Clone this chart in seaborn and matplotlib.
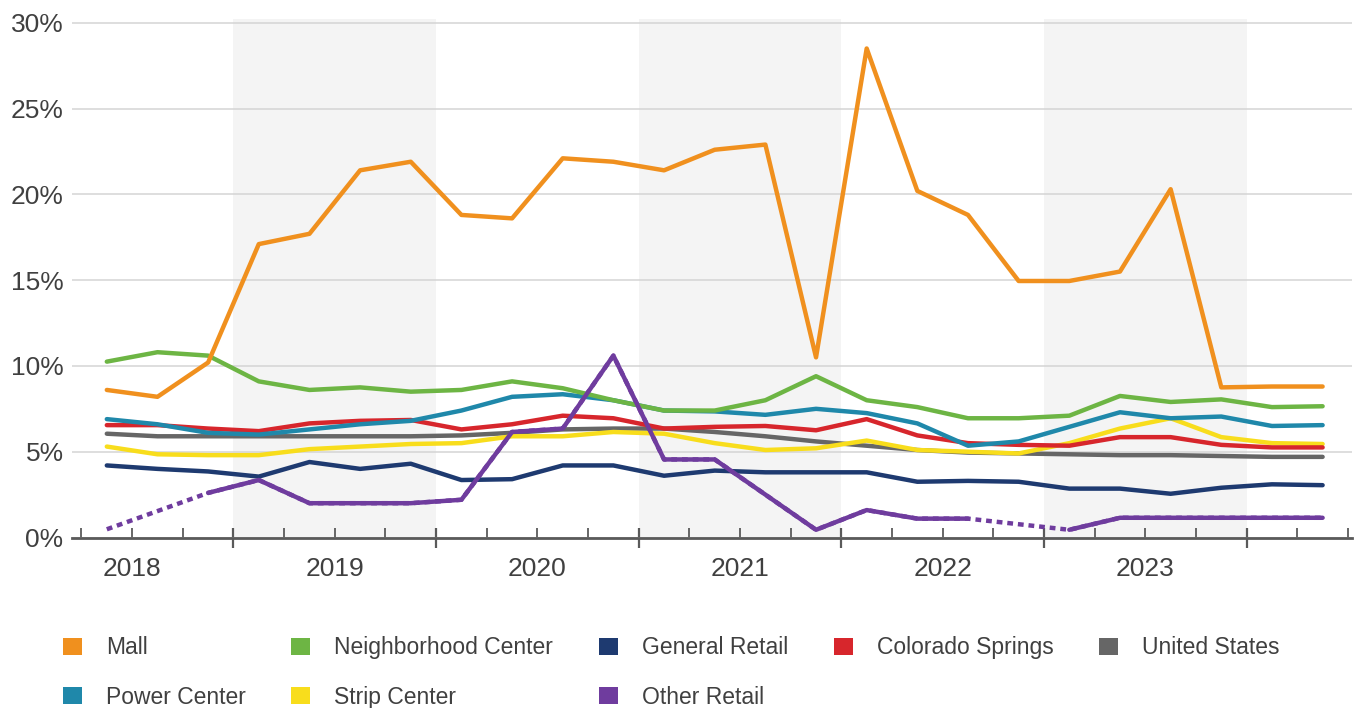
import numpy as np
import pandas as pd
import seaborn as sns
import matplotlib.pyplot as plt
from matplotlib.patches import Patch
from matplotlib.ticker import FixedLocator, PercentFormatter

# -----------------------------
# 1. Data (vacancy %, quarterly 2018Q2 - 2024Q2)
# -----------------------------
quarters = pd.period_range("2018Q2", "2024Q2", freq="Q")

mall = [8.6, 8.2, 10.2, 17.1, 17.7, 21.4, 21.9, 18.8, 18.6, 22.1, 21.9, 21.4, 22.6,
        22.9, 10.5, 28.5, 20.2, 18.8, 14.95, 14.95, 15.5, 20.3, 8.75, 8.8, 8.8]
neighborhood = [10.25, 10.8, 10.6, 9.1, 8.6, 8.75, 8.5, 8.6, 9.1, 8.7, 8.0, 7.4, 7.4,
                8.0, 9.4, 8.0, 7.6, 6.95, 6.95, 7.1, 8.25, 7.9, 8.05, 7.6, 7.65]
general = [4.2, 4.0, 3.85, 3.55, 4.4, 4.0, 4.3, 3.35, 3.4, 4.2, 4.2, 3.6, 3.9,
           3.8, 3.8, 3.8, 3.25, 3.3, 3.25, 2.85, 2.85, 2.55, 2.9, 3.1, 3.05]
colorado = [6.55, 6.55, 6.35, 6.2, 6.65, 6.8, 6.85, 6.3, 6.6, 7.1, 6.95, 6.35, 6.45,
            6.5, 6.25, 6.9, 5.95, 5.5, 5.4, 5.35, 5.85, 5.85, 5.4, 5.25, 5.25]
united_states = [6.05, 5.9, 5.9, 5.9, 5.9, 5.9, 5.9, 5.95, 6.1, 6.3, 6.35, 6.35, 6.15,
                 5.9, 5.6, 5.35, 5.1, 4.95, 4.9, 4.85, 4.8, 4.8, 4.75, 4.7, 4.7]
power = [6.9, 6.6, 6.1, 6.0, 6.3, 6.6, 6.8, 7.4, 8.2, 8.35, 8.0, 7.4, 7.35,
         7.15, 7.5, 7.25, 6.65, 5.35, 5.6, 6.45, 7.3, 6.95, 7.05, 6.5, 6.55]
strip = [5.3, 4.85, 4.8, 4.8, 5.15, 5.3, 5.45, 5.5, 5.9, 5.9, 6.15, 6.05, 5.5,
         5.1, 5.2, 5.65, 5.1, 5.0, 4.9, 5.5, 6.35, 6.95, 5.85, 5.5, 5.45]
other = [0.48, np.nan, 2.6, 3.35, 2.0, 2.0, 2.0, 2.2, 6.15, 6.35, 10.6, 4.55, 4.55,
         2.5, 0.45, 1.6, 1.1, 1.1, np.nan, 0.45, 1.15, 1.15, 1.15, 1.15, 1.15]

series = [
    ("Mall", mall, "#F0901E"),
    ("Neighborhood Center", neighborhood, "#6DB544"),
    ("General Retail", general, "#1E3A70"),
    ("Colorado Springs", colorado, "#D7262C"),
    ("United States", united_states, "#666666"),
    ("Power Center", power, "#1F88AA"),
    ("Strip Center", strip, "#F8DD1C"),
    ("Other Retail", other, "#6F3C9E"),
]

# quarter mid-points on a year axis
x = quarters.year + (quarters.quarter - 0.5) / 4

# -----------------------------
# 2. Theme
# -----------------------------
sns.set_theme(style="white")
plt.rcParams["font.family"] = ["Liberation Sans", "DejaVu Sans"]
text_color = "#404040"

fig = plt.figure(figsize=(13.68, 7.08), dpi=100)
ax = fig.add_axes([0.0526, 0.2408, 0.9357, 0.7319])

# shaded alternate years
for yr in [2019, 2021, 2023]:
    ax.axvspan(yr, yr + 1, color="#F4F4F4", zorder=0, lw=0)

# -----------------------------
# 3. Lines
# -----------------------------
draw_order = [4, 6, 2, 3, 5, 1, 7, 0]
for idx in draw_order:
    name, vals, color = series[idx]
    df = pd.DataFrame({"x": x, "y": vals})
    if df["y"].isna().any():
        # dotted bridge across missing quarters
        known = df.dropna()
        ax.plot(known["x"], known["y"], color=color, lw=3.2,
                linestyle=(0, (1.3, 1.1)), zorder=2)
        df["seg"] = df["y"].isna().cumsum()
        for _, part in df.dropna().groupby("seg"):
            if len(part) > 1:
                sns.lineplot(data=part, x="x", y="y", ax=ax, color=color,
                             lw=3.2, zorder=3, estimator=None, sort=False)
    else:
        sns.lineplot(data=df, x="x", y="y", ax=ax, color=color,
                     lw=3.2, zorder=3, estimator=None, sort=False)

# -----------------------------
# 4. Axes styling
# -----------------------------
ax.set_xlim(2018.203, 2024.52)
ax.set_ylim(0, 30.2)
ax.set_xlabel("")
ax.set_ylabel("")

ax.set_yticks([0, 5, 10, 15, 20, 25, 30])
ax.yaxis.set_major_formatter(PercentFormatter(decimals=0))
ax.grid(axis="y", color="#D4D4D4", lw=1.1, zorder=1)
ax.grid(axis="x", visible=False)
ax.tick_params(axis="y", length=0, pad=6, labelsize=19, labelcolor=text_color)

for side in ["top", "right", "left"]:
    ax.spines[side].set_visible(False)
ax.spines["bottom"].set_color("#5A5A5A")
ax.spines["bottom"].set_linewidth(2)
ax.spines["bottom"].set_zorder(4)

years = list(range(2018, 2024))
ax.xaxis.set_major_locator(FixedLocator([y + 1 for y in years]))
ax.xaxis.set_major_formatter(plt.NullFormatter())
minor_pos = [y + q / 4 for y in range(2018, 2025) for q in (1, 2, 3)]
minor_pos = [p for p in minor_pos if p <= 2024.5]
ax.set_xticks(minor_pos, minor=True)
ax.set_xticklabels([str(int(p)) if (p % 1 == 0.5 and p < 2024) else "" for p in minor_pos],
                   minor=True)
ax.tick_params(axis="x", which="major", direction="inout", length=15, width=1.6,
               color="#5A5A5A", bottom=True)
ax.tick_params(axis="x", which="minor", direction="in", length=7, width=1.3,
               color="#5A5A5A", bottom=True, pad=14, labelsize=19, labelcolor=text_color)

# -----------------------------
# 5. Legend
# -----------------------------
handle_order = [0, 5, 1, 6, 2, 7, 3, 4]
handles = [Patch(facecolor=series[i][2], edgecolor="none") for i in handle_order]
labels = [series[i][0] for i in handle_order]
fig.legend(handles, labels, ncol=5, loc="upper left",
           bbox_to_anchor=(0.046, 0.101), frameon=False, fontsize=16.5,
           handlelength=0.82, handleheight=0.75, handletextpad=1.05,
           columnspacing=2.0, labelspacing=1.15, borderpad=0, borderaxespad=0,
           labelcolor=text_color)

plt.savefig("out.png", dpi=100, facecolor="white")
plt.close()
